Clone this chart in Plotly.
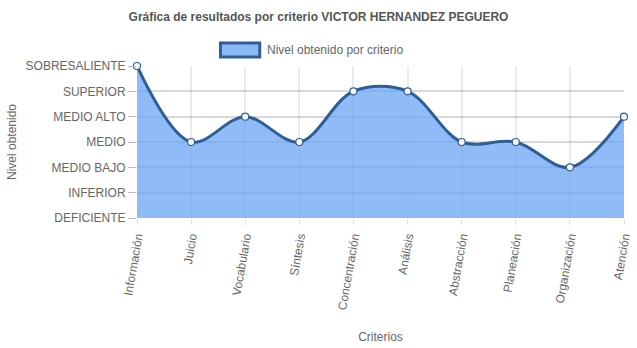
import plotly.graph_objects as go

# Criteria evaluated and the level reached in each one
criterios = ["Información", "Juicio", "Vocabulario", "Síntesis", "Concentración",
             "Análisis", "Abstracción", "Planeación", "Organización", "Atención"]
niveles = ["DEFICIENTE", "INFERIOR", "MEDIO BAJO", "MEDIO", "MEDIO ALTO",
           "SUPERIOR", "SOBRESALIENTE"]
nivel_obtenido = [6, 3, 4, 3, 5, 5, 3, 3, 2, 4]

LINE = "#2f5e96"
FILL = "rgba(100,162,242,0.72)"
TXT = "#666666"
FONT = "Liberation Sans, Arial, sans-serif"

fig = go.Figure()
fig.add_trace(go.Scatter(
    x=criterios,
    y=nivel_obtenido,
    mode="lines+markers",
    name="Nivel obtenido por criterio",
    line=dict(color=LINE, width=3, shape="spline", smoothing=1.0),
    marker=dict(size=7, color="white", line=dict(color=LINE, width=1.2)),
    fill="tozeroy",
    fillcolor=FILL,
    cliponaxis=False,
    showlegend=False,
))

fig.update_layout(
    width=637, height=348,
    margin=dict(l=137, r=4, t=66, b=130),
    paper_bgcolor="white", plot_bgcolor="white",
    font=dict(family=FONT, size=12, color=TXT),
    title=dict(text="<b>Gráfica de resultados por criterio VICTOR HERNANDEZ PEGUERO</b>",
               x=0.5, xanchor="center", y=0.951, yanchor="middle",
               font=dict(size=12, color="#555555")),
    xaxis=dict(
        type="category", range=[0, len(criterios) - 1],
        tickangle=-80, ticks="outside", ticklen=6, tickcolor="#e2e2e2",
        showgrid=True, gridcolor="rgba(0,0,0,0.08)", gridwidth=1.5,
        showline=False, zeroline=False,
        tickfont=dict(size=12, color=TXT),
        title=dict(text="Criterios", standoff=22, font=dict(size=12, color=TXT)),
    ),
    yaxis=dict(
        range=[0, 6], tickvals=list(range(len(niveles))), ticktext=niveles,
        ticks="outside", ticklen=8, tickcolor="#bbbbbb",
        showgrid=True, gridcolor="rgba(0,0,0,0.15)", gridwidth=1.5,
        showline=False, zeroline=False,
        tickfont=dict(size=12, color=TXT),
        title=dict(text="Nivel obtenido", standoff=6, font=dict(size=12, color=TXT)),
    ),
)

# Legend entry: filled swatch plus label above the plot
fig.add_shape(type="rect", xref="paper", yref="paper",
              x0=(222 - 137) / 496, x1=(262 - 137) / 496,
              y0=(218 - 57) / 152, y1=(218 - 43) / 152,
              fillcolor="rgba(138,185,245,1)", line=dict(color=LINE, width=3))
fig.add_annotation(text="Nivel obtenido por criterio", xref="paper", yref="paper",
                   x=(267 - 137) / 496, y=(218 - 50) / 152, xanchor="left",
                   yanchor="middle", showarrow=False,
                   font=dict(size=12, color=TXT, family=FONT))

fig.write_html("out.html")
